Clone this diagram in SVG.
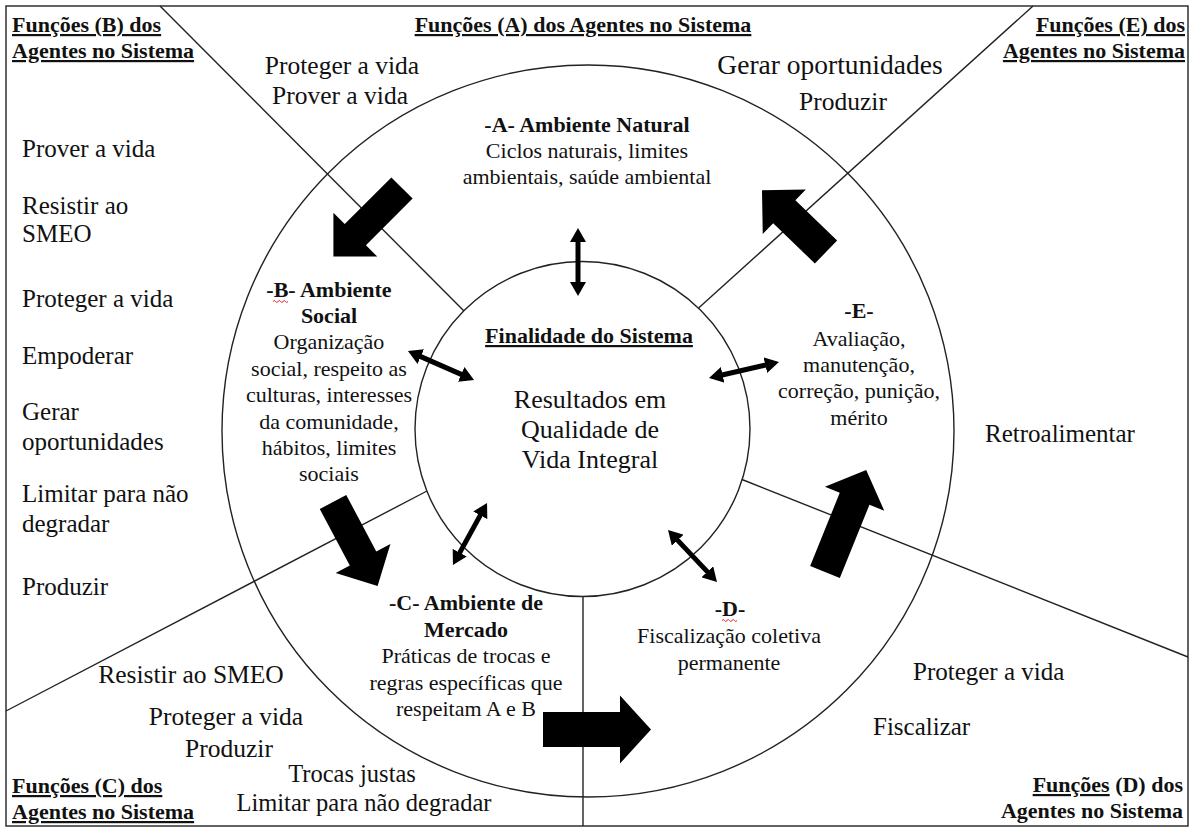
<svg xmlns="http://www.w3.org/2000/svg" width="1196" height="834" viewBox="0 0 1196 834">
<defs>
<style>
text{font-family:"Liberation Serif","Times New Roman",serif;fill:#111}
.fn{font-size:25px}
.fm{font-size:25.5px;text-anchor:middle}
.nd{font-size:22px;text-anchor:middle}
.b{font-weight:bold}
.u{text-decoration:underline;text-decoration-thickness:2px}
.hd{font-size:22px;font-weight:bold}
.ln{stroke:#222;stroke-width:1.4;fill:none}
.big{fill:#000}
.dbl{stroke:#000;stroke-width:5;fill:none;marker-start:url(#tip);marker-end:url(#tip)}
.spell{stroke:#e02020;stroke-width:1;fill:none}
</style>
<marker id="tip" markerUnits="userSpaceOnUse" markerWidth="14" markerHeight="16" refX="5" refY="8" orient="auto-start-reverse" viewBox="0 0 14 16"><path d="M0,0 L14,8 L0,16 Z" fill="#000"/></marker>
</defs>
<rect width="1196" height="834" fill="#fff"/>

<!-- frame, rings and sector dividers -->
<g id="layout" class="ln">
<rect x="6" y="6" width="1182" height="820"/>
<circle cx="588" cy="431" r="366"/>
<circle cx="582.5" cy="429" r="167.5"/>
<line x1="160" y1="6" x2="464" y2="311"/>
<line x1="1033" y1="6" x2="698.6" y2="308"/>
<line x1="742" y1="479.5" x2="1188" y2="657"/>
<line x1="6" y1="711" x2="427" y2="491"/>
<line x1="583" y1="596.5" x2="583" y2="826"/>
</g>

<!-- sector headings -->
<g id="heading-A"><text class="hd u" x="583" y="32" text-anchor="middle">Funções (A) dos Agentes no Sistema</text></g>
<g id="heading-B"><text class="hd u" x="12" y="32">Funções (B) dos</text><text class="hd u" x="12" y="58">Agentes no Sistema</text></g>
<g id="heading-E"><text class="hd u" x="1185" y="32" text-anchor="end">Funções (E) dos</text><text class="hd u" x="1185" y="58" text-anchor="end">Agentes no Sistema</text></g>
<g id="heading-C"><text class="hd u" x="12" y="793">Funções (C) dos</text><text class="hd u" x="12" y="819">Agentes no Sistema</text></g>
<g id="heading-D"><text class="hd" x="1183" y="792" text-anchor="end"><tspan class="u">Funções</tspan> (D) dos</text><text class="hd" x="1183" y="818" text-anchor="end">Agentes no Sistema</text></g>

<!-- agent functions per sector -->
<g id="funcs-A">
<text class="fm" x="342" y="74">Proteger a vida</text>
<text class="fm" x="340" y="104">Prover a vida</text>
<text class="fm" x="830" y="74" style="font-size:27.5px">Gerar oportunidades</text>
<text class="fm" x="843" y="110">Produzir</text>
</g>
<g id="funcs-B">
<text class="fn" x="22" y="157">Prover a vida</text>
<text class="fn" x="22" y="214">Resistir ao</text>
<text class="fn" x="22" y="242">SMEO</text>
<text class="fn" x="22" y="307">Proteger a vida</text>
<text class="fn" x="22" y="364">Empoderar</text>
<text class="fn" x="22" y="420">Gerar</text>
<text class="fn" x="22" y="450">oportunidades</text>
<text class="fn" x="22" y="502">Limitar para não</text>
<text class="fn" x="22" y="532">degradar</text>
<text class="fn" x="22" y="595">Produzir</text>
</g>
<g id="funcs-C">
<text class="fm" x="191" y="683">Resistir ao SMEO</text>
<text class="fm" x="226" y="725">Proteger a vida</text>
<text class="fm" x="229" y="757">Produzir</text>
<text class="fm" x="352" y="782" style="font-size:24.5px">Trocas justas</text>
<text class="fm" x="364" y="811" style="font-size:24.5px">Limitar para não degradar</text>
</g>
<g id="funcs-D">
<text class="fn" x="913" y="680">Proteger a vida</text>
<text class="fn" x="873" y="735">Fiscalizar</text>
</g>
<g id="funcs-E">
<text class="fn" x="985" y="442">Retroalimentar</text>
</g>

<!-- environments -->
<g id="node-A">
<text class="nd b" x="587" y="132">-A- Ambiente Natural</text>
<text class="nd" x="587" y="158">Ciclos naturais, limites</text>
<text class="nd" x="587" y="184">ambientais, saúde ambiental</text>
</g>
<g id="node-B">
<text class="nd b" x="329" y="297">-B- Ambiente</text>
<path class="spell" d="M273,301.5 q1.25,-2 2.5,0 t2.5,0 t2.5,0 t2.5,0 t2.5,0 t2.5,0"/>
<text class="nd b" x="329" y="323">Social</text>
<text class="nd" x="329" y="349">Organização</text>
<text class="nd" x="329" y="376">social, respeito as</text>
<text class="nd" x="329" y="402">culturas, interesses</text>
<text class="nd" x="329" y="429">da comunidade,</text>
<text class="nd" x="329" y="455">hábitos, limites</text>
<text class="nd" x="329" y="481">sociais</text>
</g>
<g id="node-C">
<text class="nd b" x="466" y="610">-C- Ambiente de</text>
<text class="nd b" x="466" y="637">Mercado</text>
<text class="nd" x="466" y="663">Práticas de trocas e</text>
<text class="nd" x="466" y="690">regras específicas que</text>
<text class="nd" x="466" y="716">respeitam A e B</text>
</g>
<g id="node-D">
<text class="nd b" x="730" y="616">-D-</text>
<path class="spell" d="M722,620.5 q1.25,-2 2.5,0 t2.5,0 t2.5,0 t2.5,0 t2.5,0 t2.5,0"/>
<text class="nd" x="729" y="643">Fiscalização coletiva</text>
<text class="nd" x="729" y="670">permanente</text>
</g>
<g id="node-E">
<text class="nd b" x="859" y="318">-E-</text>
<text class="nd" x="859" y="346">Avaliação,</text>
<text class="nd" x="859" y="372">manutenção,</text>
<text class="nd" x="859" y="398">correção, punição,</text>
<text class="nd" x="859" y="425">mérito</text>
</g>
<g id="node-center">
<text class="nd b u" x="589" y="343">Finalidade do Sistema</text>
<text x="590" y="408" text-anchor="middle" style="font-size:26px">Resultados em</text>
<text x="590" y="438" text-anchor="middle" style="font-size:26px">Qualidade de</text>
<text x="590" y="468" text-anchor="middle" style="font-size:26px">Vida Integral</text>
</g>

<!-- connectors: flow arrows between sectors and links to the centre -->
<g id="connectors">
<polygon class="big" points="0,-15 66,-15 66,-31 97,0 66,31 66,15 0,15" transform="translate(402 188) rotate(135)"/>
<polygon class="big" points="0,-16 58,-16 58,-31 89,0 58,31 58,16 0,16" transform="translate(826 252) rotate(-136)"/>
<polygon class="big" points="0,-17.5 77,-17.5 77,-34 108,0 77,34 77,17.5 0,17.5" transform="translate(543 729.5)"/>
<polygon class="big" points="0,-15 64,-15 64,-31 95,0 64,31 64,15 0,15" transform="translate(333 502) rotate(62)"/>
<polygon class="big" points="0,-16 79,-16 79,-32 110,0 79,32 79,16 0,16" transform="translate(825 572) rotate(-68)"/>
<line class="dbl" x1="578" y1="237" x2="578" y2="287"/>
<line class="dbl" x1="416.2" y1="354.6" x2="465.8" y2="376.4"/>
<line class="dbl" x1="717.8" y1="376" x2="770.2" y2="364"/>
<line class="dbl" x1="482.7" y1="510.9" x2="457.3" y2="557.1"/>
<line class="dbl" x1="674.2" y1="536.6" x2="710.8" y2="575.4"/>
</g>
</svg>
